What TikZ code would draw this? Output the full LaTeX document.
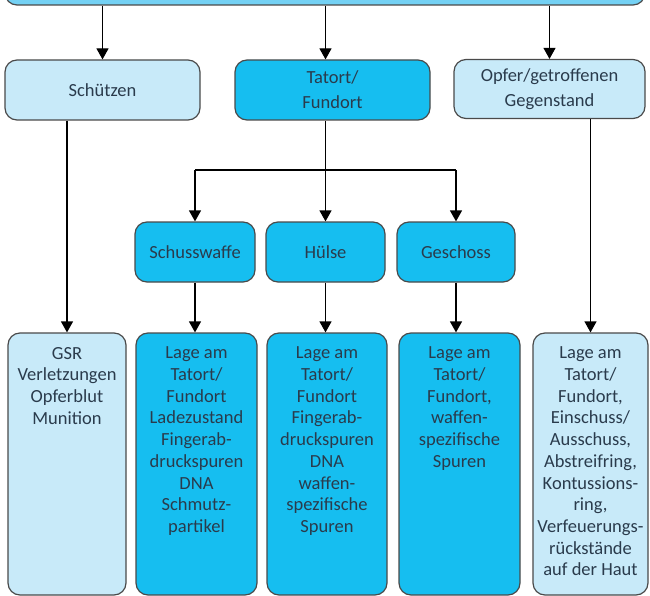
\documentclass[tikz,border=0pt]{standalone}
\usepackage{fontspec}
\setmainfont{Carlito}
\usetikzlibrary{arrows.meta}
\definecolor{midblue}{HTML}{74D1F4}
\definecolor{darkblue}{HTML}{16BEF0}
\definecolor{lightblue}{HTML}{C8EAF9}
\definecolor{framegray}{HTML}{4A4A4A}
\definecolor{textslate}{HTML}{2A3B4C}
\tikzset{
	box/.style={draw=framegray, line width=1.2pt, rounded corners=12pt, inner sep=0pt,
		text=textslate, align=center, font=\fontsize{18.5}{25}\selectfont},
	darkbox/.style={box, fill=darkblue},
	lightbox/.style={box, fill=lightblue},
	arr/.style={line width=1.2pt, -{Triangle[width=12pt,length=11pt]}}
}
% text of the long boxes, set from the top
\newcommand{\coltext}[2]{\parbox[c][262pt][t]{#1}{\centering\fontsize{18.5}{21.7}\selectfont\vspace*{14pt}#2}}
\begin{document}
\begin{tikzpicture}[x=1pt,y=-1pt]
		\clip (0,0) rectangle (650,596);
		\useasboundingbox (0,0) rectangle (650,596);
		
		%top row
		\node[box, fill=midblue, minimum width=640, minimum height=60] (top) at (325,-25){};
		\node[lightbox, minimum width=195, minimum height=60] (sch) at (102.5,90){Schützen};
		\node[darkbox, minimum width=195, minimum height=60] (tat) at (332.5,90){Tatort/\\Fundort};
		\node[lightbox, minimum width=191, minimum height=59] (opf) at (549.5,89){Opfer/getroffenen\\Gegenstand};
		
		%objects
		\node[darkbox, minimum width=120, minimum height=60] (swf) at (195,252){Schusswaffe};
		\node[darkbox, minimum width=119, minimum height=60] (hul) at (325.5,252){Hülse};
		\node[darkbox, minimum width=118, minimum height=60] (ges) at (456,252){Geschoss};
		
		%traces
		\node[lightbox] (b1) at (67,464){\coltext{118pt}{GSR\\Verletzungen\\Opferblut\\Munition}};
		\node[darkbox] (b2) at (196.5,464){\coltext{121pt}{Lage am\\Tatort/\\Fundort\\Ladezustand\\Fingerab-\\druckspuren\\DNA\\Schmutz-\\partikel}};
		\node[darkbox] (b3) at (327,464){\coltext{120pt}{Lage am\\Tatort/\\Fundort\\Fingerab-\\druckspuren\\DNA\\waffen-\\spezifische\\Spuren}};
		\node[darkbox] (b4) at (459.5,464){\coltext{121pt}{Lage am\\Tatort/\\Fundort,\\waffen-\\spezifische\\Spuren}};
		\node[lightbox] (b5) at (590.5,464){\coltext{115pt}{Lage am\\Tatort/\\Fundort,\\Einschuss/\\Ausschuss,\\Abstreifring,\\Kontussions-\\ring,\\Verfeuerungs-\\rückstände\\auf der Haut}};
		
		%arrows
		\draw[arr] (top.south -| sch.north) -- (sch.north);
		\draw[arr] (top.south -| hul.north) -- (hul.north |- tat.north);
		\draw[arr] (top.south -| opf.north) -- (opf.north);
		
		\coordinate (split) at (325.5,170);
		\draw[line width=1.2pt] (tat.south -| split) -- (split);
		\draw[line width=1.2pt] (swf.north |- split) -- (ges.north |- split);
		\foreach \n in {swf, hul, ges}{
			\draw[arr] (\n.north |- split) -- (\n.north);
		}
		
		\draw[arr] (sch.south -| b1.north) -- (b1.north);
		\draw[arr] (swf.south) -- (swf.south |- b2.north);
		\draw[arr] (hul.south) -- (hul.south |- b3.north);
		\draw[arr] (ges.south) -- (ges.south |- b4.north);
		\draw[arr] (opf.south -| b5.north) -- (b5.north);
		\end{tikzpicture}
\end{document}
